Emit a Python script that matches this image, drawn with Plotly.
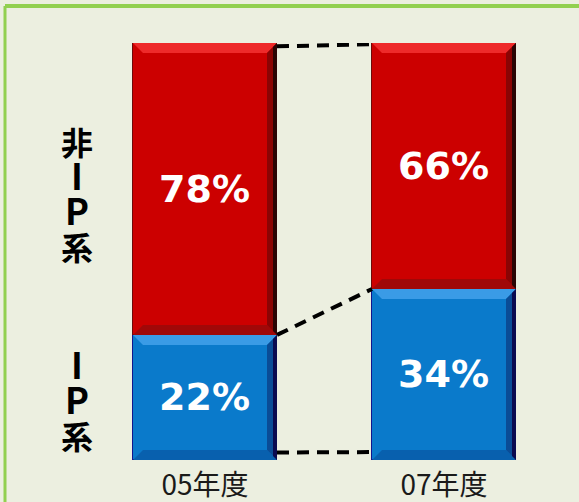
import plotly.graph_objects as go

# ---- data ----
years = ["05年度", "07年度"]
ip_height = [30, 41]          # bar segment heights as drawn in the picture
nonip_height = [70, 59]
ip_labels = ["22%", "34%"]
nonip_labels = ["78%", "66%"]
nonip_group_chars = ["非", "I", "P", "系"]
ip_group_chars = ["I", "P", "系"]

RED = "#CC0000"
BLUE = "#0A7ACB"
BG = "#ECEFE0"
GREEN = "#92D050"

xs = list(range(len(years)))
W = 0.6025
PXX = 1 / 239      # one pixel in x data units
PXY = 100 / 417    # one pixel in y data units
FIG_W, FIG_H = 579, 502
MT, MB = 43, 42

fig = go.Figure()
for heights, labels, color, edge in [(ip_height, ip_labels, BLUE, "#14148C"),
                                     (nonip_height, nonip_labels, RED, "#6E0A0A")]:
    fig.add_trace(go.Bar(
        x=xs, y=heights, width=W, marker=dict(color=color, line=dict(color=edge, width=1)),
        text=labels, textposition="inside", insidetextanchor="middle",
        textfont=dict(family="DejaVu Sans", size=38, color="white", weight="bold"),
        hoverinfo="skip", showlegend=False,
    ))

# bevel decoration derived from the bar segments
def bevel(x, y0, y1, light, dark, darker, darkest):
    L, R = x - W / 2, x + W / 2
    bx, by = 10 * PXX, 10 * PXY
    def poly(pts, col):
        d = "M " + " L ".join(f"{a},{b}" for a, b in pts) + " Z"
        fig.add_shape(type="path", path=d, xref="x", yref="y", fillcolor=col,
                      line=dict(width=0), layer="above")
    poly([(L, y1), (R, y1), (R - bx, y1 - by), (L + bx, y1 - by)], light)
    poly([(L, y0), (R, y0), (R - bx, y0 + by), (L + bx, y0 + by)], darker)
    poly([(R, y1), (R, y0), (R - bx, y0 + by), (R - bx, y1 - by)], dark)
    poly([(R - 4 * PXX, y1 - 4 * PXY), (R, y1), (R, y0), (R - 4 * PXX, y0 + 4 * PXY)], darkest)

for i, x in enumerate(xs):
    bevel(x, 0, ip_height[i], "#3A9BE6", "#0A4C96", "#0860AE", "#0A0A50")
    bevel(x, ip_height[i], ip_height[i] + nonip_height[i], "#EE2A2A", "#8A0404", "#A00808", "#2A0505")

# dashed connector lines between the two bars
tops = [a + b for a, b in zip(ip_height, nonip_height)]
x_l = xs[0] + W / 2
x_r = xs[1] - W / 2
for y0, y1 in [(tops[0] - 0.8, tops[1] - 0.3), (ip_height[0], ip_height[1]), (1.8, 1.9)]:
    fig.add_trace(go.Scatter(
        x=[x_l, x_r], y=[y0, y1], mode="lines",
        line=dict(color="black", width=4, dash="12px,8px"),
        hoverinfo="skip", showlegend=False,
    ))

# vertical side labels (one character per line)
def py(pix):
    return (FIG_H - MB - pix) / (FIG_H - MT - MB)

def vertical(chars):
    parts = []
    for ch in chars:
        size = 36 if ch.isascii() else 32
        parts.append(f"<span style='font-size:{size}px'>{ch}</span>")
    return "<br>".join(parts)

for chars, cy in [(nonip_group_chars, 193), (ip_group_chars, 397)]:
    fig.add_annotation(x=76.5 / FIG_W, y=py(cy), xref="paper", yref="paper", text=vertical(chars),
                       showarrow=False, xanchor="center", yanchor="middle",
                       font=dict(family="Noto Sans CJK JP", size=27, color="black", weight="bold"))

# green frame (top and left edges)
fig.add_shape(type="line", xref="paper", yref="paper", x0=5 / FIG_W, x1=1.1, y0=py(6), y1=py(6),
              line=dict(color=GREEN, width=4))
fig.add_shape(type="line", xref="paper", yref="paper", x0=5 / FIG_W, x1=5 / FIG_W, y0=-0.2, y1=py(6),
              line=dict(color=GREEN, width=3))

fig.update_layout(
    width=FIG_W, height=FIG_H, barmode="stack",
    margin=dict(l=0, r=0, t=MT, b=MB),
    paper_bgcolor=BG, plot_bgcolor=BG,
    bargap=0,
    xaxis=dict(range=[-205 / 239, (579 - 205) / 239], tickvals=xs, ticktext=years,
               showgrid=False, zeroline=False, showline=False, ticks="", ticklabelstandoff=6,
               tickfont=dict(family="Noto Sans CJK JP", size=28, color="#1a1a1a")),
    yaxis=dict(range=[0, 100], visible=False),
)

fig.write_html("out.html", config={"displayModeBar": False},
               post_script="document.body.style.margin='0';document.body.style.background='#ECEFE0';")
